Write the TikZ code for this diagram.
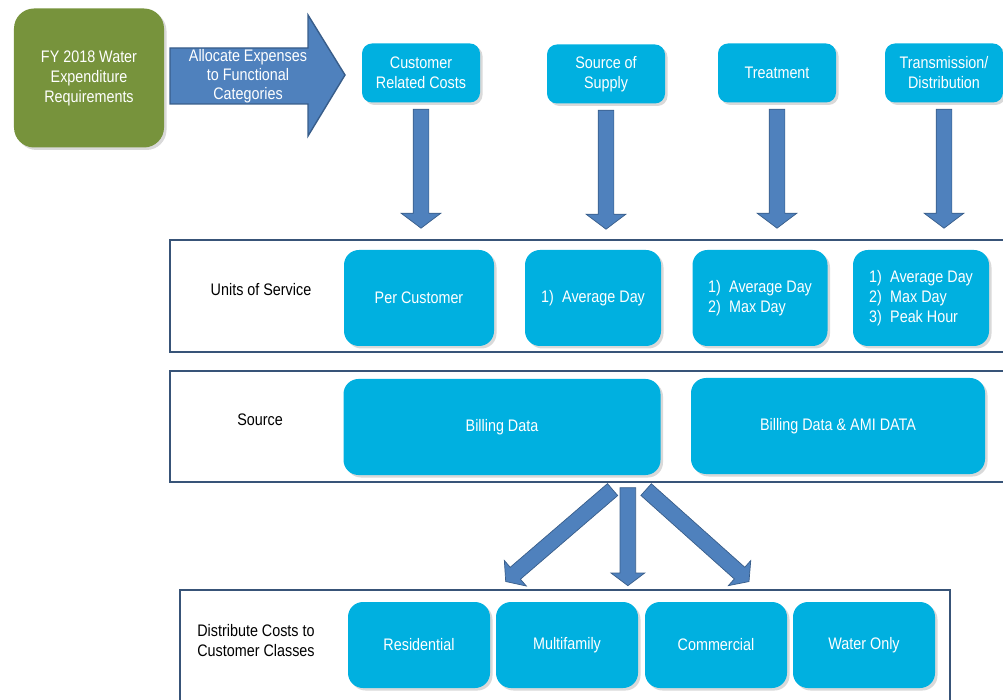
\documentclass[tikz,border=0pt]{standalone}
\usepackage{fontspec}
\setmainfont[FakeStretch=0.86]{Liberation Sans}
\usepackage{xcolor}
\usepackage{tikz}
\usetikzlibrary{shapes.arrows, shadows, calc, positioning}

\definecolor{boxcyan}{RGB}{0,176,224}
\definecolor{fygreen}{RGB}{119,147,60}
\definecolor{arrowblue}{RGB}{79,129,189}
\definecolor{arrowedge}{RGB}{56,93,138}
\definecolor{panelline}{RGB}{56,84,120}

\begin{document}
\begin{tikzpicture}[
    x=0.2mm, y=-0.2mm,
    font=\fontsize{9.5}{11.4}\selectfont,
    shade/.style={drop shadow={shadow xshift=0.05cm, shadow yshift=-0.05cm, opacity=0.3}},
    catbox/.style={fill=boxcyan, text=white, rounded corners=0.2cm, minimum width=2.36cm, minimum height=1.18cm, align=center, shade},
    unitbox/.style={fill=boxcyan, text=white, rounded corners=0.3cm, minimum height=1.92cm, align=center, shade},
    classbox/.style={unitbox, minimum width=2.84cm, minimum height=1.72cm},
    panel/.style={draw=panelline, line width=1.2pt},
    downarrow/.style={single arrow, draw=arrowedge, fill=arrowblue, inner xsep=0pt, inner ysep=0.15cm,
        single arrow head extend=0.24cm, single arrow tip angle=106, anchor=tail}
]
    \useasboundingbox (0,0) rectangle (1003,700);
    \clip (0,0) rectangle (1003,700);

    % Expenses and allocation
    \node[fill=fygreen, text=white, rounded corners=0.4cm, minimum width=3cm, minimum height=2.78cm, align=center, shade] at (89,78) (fy) {FY 2018 Water\\Expenditure\\Requirements};
    \draw[fill=arrowblue, draw=arrowedge, line width=0.8pt] (170,48) -- (308,48) -- (308,15) -- (345,75) -- (308,136) -- (308,104) -- (170,104) -- cycle;
    \node[text=white, align=center, font=\fontsize{9.5}{10.8}\selectfont] at (248,76) (alloc) {Allocate Expenses\\to Functional\\Categories};

    % Functional categories
    \node[catbox] at (421,73) (cust) {Customer\\Related Costs};
    \node[catbox] at (606,74) (supply) {Source of\\Supply};
    \node[catbox] at (777,73) (treat) {Treatment};
    \node[catbox] at (944,73) (trans) {Transmission/\\Distribution};

    % Panels
    \draw[panel] (170,240) rectangle (1010,352);
    \draw[panel] (170,371) rectangle (1010,482);
    \draw[panel] (180,590) rectangle (950,710);

    % Units of service
    \node at (261,290) (units) {Units of Service};
    \node[unitbox, minimum width=3cm] at (419,298) (percust) {Per Customer};
    \node[unitbox, minimum width=2.72cm] at (593,298) (avg1) {1)\enspace Average Day};
    \node[unitbox, minimum width=2.7cm, align=left] at (760,298) (avg2) {1)\enspace Average Day\\2)\enspace Max Day};
    \node[unitbox, minimum width=2.72cm, align=left] at (921,298) (avg3) {1)\enspace Average Day\\2)\enspace Max Day\\3)\enspace Peak Hour};

    % Source
    \node at (260,420) (src) {Source};
    \node[unitbox, minimum width=6.34cm] at (502,427) (billing) {Billing Data};
    \node[unitbox, minimum width=5.88cm] at (838,426) (ami) {Billing Data \& AMI DATA};

    % Customer classes
    \node[align=center] at (256,641) (dist) {Distribute Costs to\\Customer Classes};
    \node[classbox] at (419,645) (res) {Residential};
    \node[classbox] at (567,645) (multi) {Multifamily};
    \node[classbox] at (716,645) (comm) {Commercial};
    \node[classbox] at (864,645) (water) {Water Only};

    % Block arrows
    \node[downarrow, rotate=-90, minimum height=2.38cm] at ($(cust.south)+(0,6)$) (a1) {};
    \node[downarrow, rotate=-90, minimum height=2.38cm] at ($(supply.south)+(0,6)$) (a2) {};
    \node[downarrow, rotate=-90, minimum height=2.38cm] at ($(treat.south)+(0,6)$) (a3) {};
    \node[downarrow, rotate=-90, minimum height=2.38cm] at ($(trans.south)+(0,6)$) (a4) {};
    \node[downarrow, rotate=-139.3, minimum height=2.82cm, single arrow head extend=0.18cm] at ($(billing.south east)+(-48,14)$) (b1) {};
    \node[downarrow, rotate=-90, minimum height=1.96cm, single arrow head extend=0.18cm] at ($(billing.south east)+(-33,12)$) (b2) {};
    \node[downarrow, rotate=-41.8, minimum height=2.76cm, single arrow head extend=0.18cm] at ($(billing.south east)+(-15,14)$) (b3) {};
\end{tikzpicture}
\end{document}
